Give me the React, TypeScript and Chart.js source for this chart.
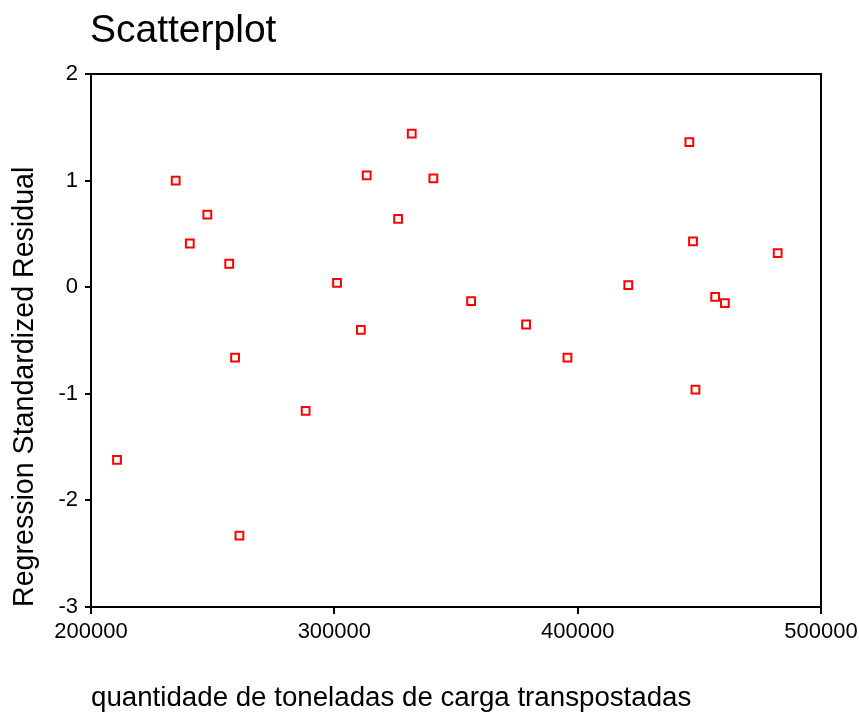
import React, { useEffect, useRef } from "react";
import { Chart, registerables } from "chart.js";

Chart.register(...registerables);

const chartTitle = "Scatterplot";
const xAxisTitle = "quantidade de toneladas de carga transpostadas";
const yAxisTitle = "Regression Standardized Residual";

const tonnage = [
  210700, 234800, 240600, 247800, 256800, 259200, 261000, 288200,
  301100, 310900, 313300, 326200, 331800, 340700, 356200, 378800,
  395800, 420800, 445900, 447400, 448400, 456500, 460500, 482200,
];
const residual = [
  -1.62, 1.0, 0.41, 0.68, 0.22, -0.66, -2.33, -1.16,
  0.04, -0.4, 1.05, 0.64, 1.44, 1.02, -0.13, -0.35,
  -0.66, 0.02, 1.36, 0.43, -0.96, -0.09, -0.15, 0.32,
];

const xMin = 200000;
const xMax = 500000;
const xStep = 100000;
const yMin = -3;
const yMax = 2;
const yStep = 1;

const FONT = "'Liberation Sans', Arial, Helvetica, sans-serif";

export default function App() {
  const ref = useRef<HTMLCanvasElement | null>(null);

  useEffect(() => {
    document.body.style.margin = "0";
    const canvas = ref.current;
    if (!canvas) return;

    const framePlugin = {
      id: "frameAndTitle",
      afterDraw(chart: any) {
        const { ctx, chartArea } = chart;
        ctx.save();
        ctx.strokeStyle = "#000";
        ctx.lineWidth = 2;
        ctx.strokeRect(
          chartArea.left,
          chartArea.top,
          chartArea.right - chartArea.left,
          chartArea.bottom - chartArea.top
        );
        ctx.fillStyle = "#000";
        ctx.font = `39px ${FONT}`;
        ctx.textAlign = "left";
        ctx.textBaseline = "alphabetic";
        ctx.fillText(chartTitle, 90, 42);
        ctx.restore();
      },
    };

    const chart = new Chart(canvas, {
      type: "scatter",
      data: {
        datasets: [
          {
            data: tonnage.map((x, i) => ({ x, y: residual[i] })),
            pointStyle: "rect",
            radius: 5.5,
            borderWidth: 2,
            borderColor: "#ff0000",
            backgroundColor: "rgba(0,0,0,0)",
          },
        ],
      },
      options: {
        responsive: false,
        animation: false,
        layout: { padding: { top: 74, right: 38, bottom: 0, left: 0 } },
        plugins: {
          legend: { display: false },
          tooltip: { enabled: false },
          title: { display: false },
        },
        scales: {
          x: {
            type: "linear",
            min: xMin,
            max: xMax,
            afterFit(scale: any) {
              scale.height = 105;
              scale.paddingLeft = 0;
              scale.paddingRight = 0;
            },
            ticks: {
              stepSize: xStep,
              color: "#000",
              padding: 5,
              maxRotation: 0,
              font: { family: FONT, size: 22 },
              callback: (v: any) => String(v),
            },
            grid: {
              drawOnChartArea: false,
              drawTicks: true,
              tickLength: 7,
              color: "#000",
              lineWidth: 2,
            },
            border: { display: true, color: "#000", width: 2 },
            title: {
              display: true,
              text: xAxisTitle,
              align: "start",
              color: "#000",
              padding: 0,
              font: { family: FONT, size: 27.7, lineHeight: 1 },
            },
          },
          y: {
            type: "linear",
            min: yMin,
            max: yMax,
            afterFit(scale: any) {
              scale.width = 91;
            },
            ticks: {
              stepSize: yStep,
              color: "#000",
              padding: 7,
              font: { family: FONT, size: 22 },
              callback: (v: any) => String(v),
            },
            grid: {
              drawOnChartArea: false,
              drawTicks: true,
              tickLength: 6,
              color: "#000",
              lineWidth: 2,
            },
            border: { display: true, color: "#000", width: 2 },
            title: {
              display: true,
              text: yAxisTitle,
              align: "start",
              color: "#000",
              padding: { top: 11, bottom: 0 },
              font: { family: FONT, size: 28.6, lineHeight: 1 },
            },
          },
        },
      },
      plugins: [framePlugin],
    } as any);

    return () => chart.destroy();
  }, []);

  return (
    <div style={{ width: 859, height: 712, background: "#fff" }}>
      <canvas ref={ref} width={859} height={712} style={{ display: "block" }} />
    </div>
  );
}
